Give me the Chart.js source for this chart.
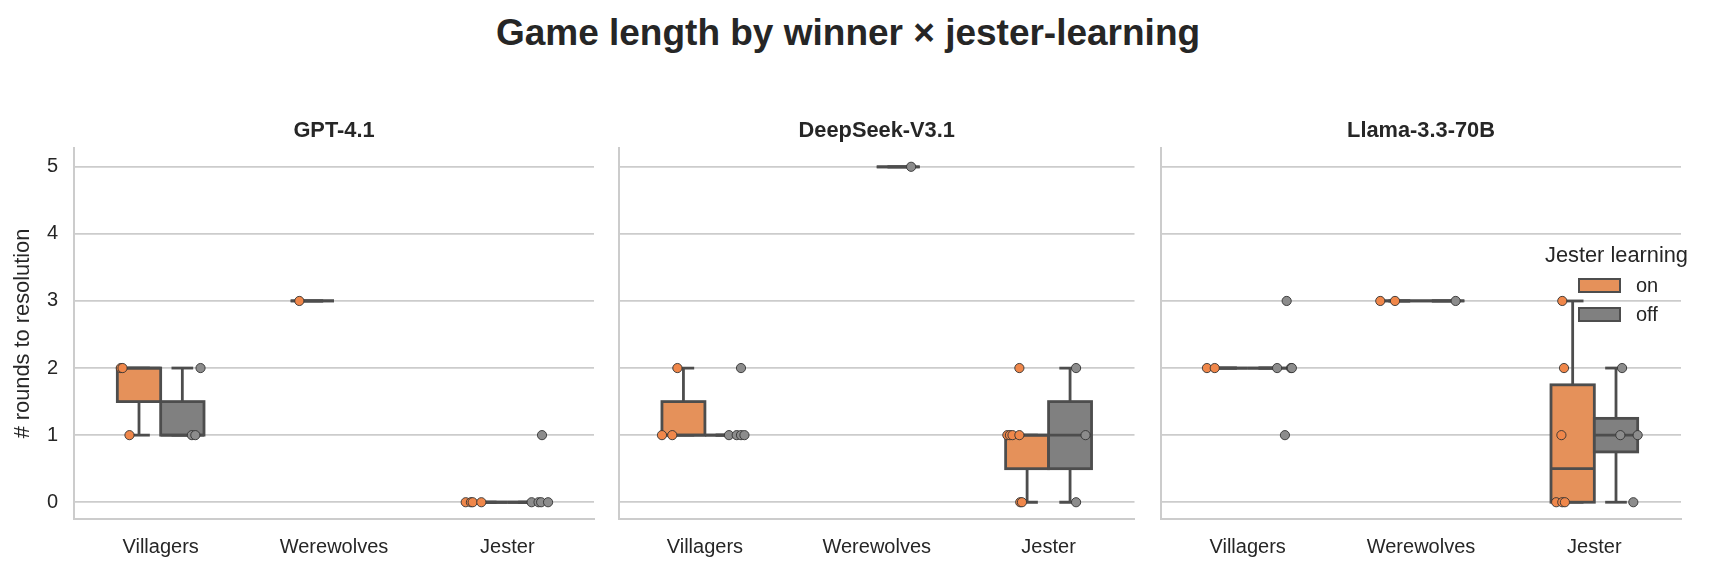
<!DOCTYPE html>
<html>
<head>
<meta charset="utf-8">
<title>Game length by winner × jester-learning</title>
<script src="https://cdn.jsdelivr.net/npm/chart.js@4.4.1/dist/chart.umd.min.js"></script>
<style>
  html, body { margin: 0; padding: 0; background: #fff; }
  body {
    width: 1710px; height: 572px; position: relative; overflow: hidden;
    font-family: "Liberation Sans", Arial, sans-serif; color: #262626;
  }
  canvas { position: absolute; top: 0; }
  #title {
    position: absolute; left: -7px; top: 0; width: 1710px;
    line-height: 66px; text-align: center; font-weight: bold; font-size: 37px;
  }
  .leg { position: absolute; white-space: nowrap; }
  .legTitle { left: 1545px; top: 242px; line-height: 26px; font-size: 21.8px; }
  .legText { left: 1636px; line-height: 24px; font-size: 20px; }
  .patch { position: absolute; left: 1578px; width: 43px; height: 15px; box-sizing: border-box; border: 2px solid #4d4d4d; }
</style>
</head>
<body>
<div id="title">Game length by winner × jester-learning</div>
<canvas id="c0" width="600" height="572" style="left:0px"></canvas>
<canvas id="c1" width="540" height="572" style="left:600px"></canvas>
<canvas id="c2" width="570" height="572" style="left:1140px"></canvas>

<div class="leg legTitle">Jester learning</div>
<div class="patch" id="patchOn" style="top:278px"></div>
<div class="leg legText" style="top:273px">on</div>
<div class="patch" id="patchOff" style="top:307px"></div>
<div class="leg legText" style="top:302px">off</div>

<script>
const winners = ['Villagers', 'Werewolves', 'Jester'];
const learningLevels = ['on', 'off'];
const panelNames = ['GPT-4.1', 'DeepSeek-V3.1', 'Llama-3.3-70B'];
const yTicks = [0, 1, 2, 3, 4, 5];

// rounds to resolution per winner, as [on, off]
const gptRounds = [
    [[2, 2, 1], [1, 1, 2]],
    [[3], []],
    [[0, 0, 0, 0], [0, 0, 0, 0, 1]]
];
const deepseekRounds = [
    [[1, 1, 2], [1, 1, 1, 1, 2]],
    [[], [5]],
    [[0, 0, 1, 1, 1, 1, 2], [0, 1, 2]]
];
const llamaRounds = [
    [[2, 2], [1, 2, 2, 2, 3]],
    [[3, 3], [3]],
    [[0, 0, 0, 1, 2, 3], [0, 1, 1, 2]]
];

// strip jitter (category units)
const gptJitter = [
    [[-0.03, -0.02, 0.02], [-0.02, 0.0, 0.03]],
    [[0.0], []],
    [[-0.04, -0.01, 0.0, 0.05], [-0.06, -0.02, -0.005, 0.035, 0.0]]
];
const deepseekJitter = [
    [[-0.05, 0.01, 0.04], [-0.06, -0.015, 0.01, 0.03, 0.01]],
    [[], [0.0]],
    [[0.035, 0.045, -0.04, -0.025, -0.01, 0.03, 0.03], [-0.04, 0.015, -0.04]]
];
const llamaJitter = [
    [[-0.035, 0.01], [0.015, -0.03, 0.05, 0.055, 0.025]],
    [[-0.035, 0.05], [0.0]],
    [[-0.02, 0.015, 0.03, 0.01, 0.025, 0.015], [0.025, -0.05, 0.05, -0.04]]
];

const panelRounds = [gptRounds, deepseekRounds, llamaRounds];
const panelJitter = [gptJitter, deepseekJitter, llamaJitter];

const boxFill = ['#E5915A', '#808080'];
const pointFill = ['#F0874A', '#8C8C8C'];
const lineGray = '#4d4d4d';
const gridGray = '#cccccc';

const BOX_SHIFT = [-0.125, 0.125];
const BOX_HALF = 0.125;
const STRIP_SHIFT = [-0.2, 0.2];

// canvas layout for each panel
const panelLayout = [
    { yWidth: 74, padRight: 6 },
    { yWidth: 19, padRight: 3 },
    { yWidth: 21, padRight: 29 }
];

document.getElementById('patchOn').style.background = boxFill[0];
document.getElementById('patchOff').style.background = boxFill[1];

Chart.defaults.font.family = '"Liberation Sans", Arial, sans-serif';
Chart.defaults.color = '#262626';

function quantile(sorted, p) {
    const idx = (sorted.length - 1) * p;
    const lo = Math.floor(idx), hi = Math.ceil(idx);
    return sorted[lo] + (sorted[hi] - sorted[lo]) * (idx - lo);
}

function boxStats(vals) {
    const s = [...vals].sort((a, b) => a - b);
    const q1 = quantile(s, 0.25), med = quantile(s, 0.5), q3 = quantile(s, 0.75);
    const iqr = q3 - q1;
    const lo = Math.min(...s.filter(v => v >= q1 - 1.5 * iqr));
    const hi = Math.max(...s.filter(v => v <= q3 + 1.5 * iqr));
    return { q1, med, q3, lo, hi };
}

function makeBoxPlugin(items) {
    return {
        id: 'boxes',
        beforeDatasetsDraw(chart) {
            const { ctx, chartArea, scales: { x, y } } = chart;
            ctx.save();
            ctx.beginPath();
            ctx.rect(chartArea.left, chartArea.top, chartArea.width, chartArea.height);
            ctx.clip();
            ctx.lineWidth = 2.8;
            ctx.strokeStyle = lineGray;
            ctx.lineCap = 'butt';
            const seg = (x1, y1, x2, y2) => {
                ctx.beginPath(); ctx.moveTo(x1, y1); ctx.lineTo(x2, y2); ctx.stroke();
            };
            items.forEach(b => {
                const xl = x.getPixelForValue(b.pos - BOX_HALF);
                const xr = x.getPixelForValue(b.pos + BOX_HALF);
                const xc = x.getPixelForValue(b.pos);
                const cl = x.getPixelForValue(b.pos - BOX_HALF / 2);
                const cr = x.getPixelForValue(b.pos + BOX_HALF / 2);
                const yq1 = y.getPixelForValue(b.q1);
                const yq3 = y.getPixelForValue(b.q3);
                const ylo = y.getPixelForValue(b.lo);
                const yhi = y.getPixelForValue(b.hi);
                const ymed = y.getPixelForValue(b.med);
                // whiskers + caps
                seg(xc, yq1, xc, ylo);
                seg(xc, yq3, xc, yhi);
                seg(cl, ylo, cr, ylo);
                seg(cl, yhi, cr, yhi);
                // box
                ctx.fillStyle = b.color;
                ctx.fillRect(xl, yq3, xr - xl, yq1 - yq3);
                ctx.strokeRect(xl, yq3, xr - xl, yq1 - yq3);
                // median
                seg(xl, ymed, xr, ymed);
            });
            ctx.restore();
        }
    };
}

panelNames.forEach((name, p) => {
    const rounds = panelRounds[p];
    const jitter = panelJitter[p];
    const lay = panelLayout[p];

    const boxes = [];
    winners.forEach((w, wi) => {
        learningLevels.forEach((lvl, h) => {
            const vals = rounds[wi][h];
            if (!vals.length) return;
            boxes.push(Object.assign({ pos: wi + BOX_SHIFT[h], color: boxFill[h] }, boxStats(vals)));
        });
    });

    const datasets = learningLevels.map((lvl, h) => ({
        label: lvl,
        data: winners.flatMap((w, wi) =>
            rounds[wi][h].map((v, i) => ({ x: wi + STRIP_SHIFT[h] + jitter[wi][h][i], y: v }))),
        backgroundColor: pointFill[h],
        borderColor: '#333333',
        pointRadius: 4.6,
        pointBorderWidth: 0.9,
        showLine: false
    }));

    new Chart(document.getElementById('c' + p), {
        type: 'scatter',
        data: { datasets },
        plugins: [makeBoxPlugin(boxes)],
        options: {
            responsive: false,
            animation: false,
            events: [],
            layout: { padding: { left: 0, right: lay.padRight, top: 0, bottom: 0 } },
            plugins: {
                legend: { display: false },
                tooltip: { enabled: false },
                title: {
                    display: true,
                    text: name,
                    fullSize: false,
                    color: '#262626',
                    font: { size: 21.8, weight: 'bold' },
                    padding: { top: 118, bottom: 3.84 }
                }
            },
            scales: {
                x: {
                    type: 'linear',
                    min: -0.5,
                    max: 2.5,
                    grid: { display: false, drawTicks: false },
                    border: { display: true, color: gridGray, width: 2 },
                    afterBuildTicks: s => { s.ticks = winners.map((w, i) => ({ value: i })); },
                    afterFit: s => { s.height = 53; },
                    ticks: {
                        padding: 16,
                        font: { size: 20 },
                        color: '#262626',
                        maxRotation: 0,
                        callback: v => winners[v]
                    }
                },
                y: {
                    type: 'linear',
                    min: -0.25,
                    max: 5.28,
                    grid: { color: gridGray, lineWidth: 1.8, drawTicks: false },
                    border: { display: true, color: gridGray, width: 2 },
                    afterBuildTicks: s => { s.ticks = yTicks.map(v => ({ value: v })); },
                    afterFit: s => { s.width = lay.yWidth; },
                    ticks: {
                        display: p === 0,
                        padding: 16,
                        font: { size: 20 },
                        color: '#262626'
                    },
                    title: {
                        display: p === 0,
                        text: '# rounds to resolution',
                        font: { size: 21.8 },
                        color: '#262626',
                        padding: { top: 10, bottom: 0 }
                    }
                }
            }
        }
    });
});
</script>
</body>
</html>
